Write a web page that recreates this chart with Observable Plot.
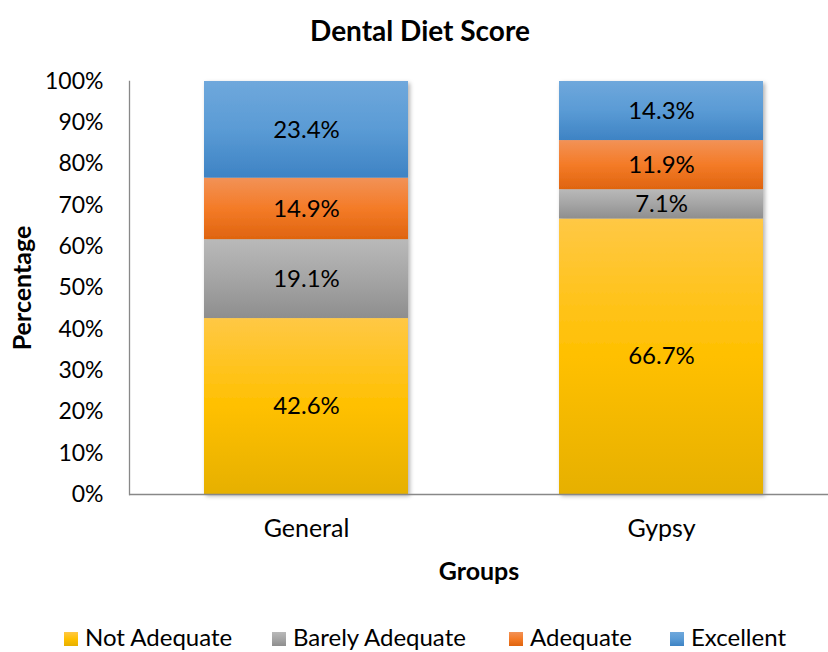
<!DOCTYPE html>
<html>
<head>
<meta charset="utf-8">
<script src="https://cdn.jsdelivr.net/npm/d3@7"></script>
<script src="https://cdn.jsdelivr.net/npm/@observablehq/plot@0.6"></script>
<style>
  html, body { margin: 0; padding: 0; background: #fff; }
  body { width: 828px; height: 652px; position: relative; overflow: hidden; font-family: Lato, "Noto Sans", sans-serif; color: #000; }
  #title { position: absolute; left: 6px; top: 0; width: 828px; height: 60px; line-height: 60px; text-align: center; font-weight: bold; font-size: 28px; }
  #chart { position: absolute; left: 0; top: 60px; }
  .lg { position: absolute; top: 624px; height: 26px; line-height: 26px; font-size: 24px; white-space: nowrap; }
  .sw { display: inline-block; width: 14px; height: 14px; vertical-align: middle; margin-right: 7px; position: relative; top: -1px; }
</style>
</head>
<body>
<div id="title">Dental Diet Score</div>
<div id="chart"></div>
<div id="legend"></div>
<script>
const groups = ["General", "Gypsy"];
const series = ["Not Adequate", "Barely Adequate", "Adequate", "Excellent"];
const generalValues = [42.6, 19.1, 14.9, 23.4];
const gypsyValues = [66.7, 7.1, 11.9, 14.3];
const yTicks = [0, 10, 20, 30, 40, 50, 60, 70, 80, 90, 100];

// gradient stops per series: [top, middle, bottom]
const gradients = [
  ["#ffc845", "#ffc000", "#e6b000"],
  ["#b9b9b9", "#a5a5a5", "#8e8e8e"],
  ["#f29257", "#f47b27", "#df640f"],
  ["#6fa8dc", "#5a9bd5", "#3e83c4"]
];
const gradIds = series.map((s, i) => "grad" + i);

const data = [];
groups.forEach((g, gi) => {
  const vals = gi === 0 ? generalValues : gypsyValues;
  series.forEach((s, si) => data.push({group: g, series: s, value: vals[si] / 100}));
});

const plot = Plot.plot({
  width: 828,
  height: 560,
  marginLeft: 129,
  marginRight: 0,
  marginTop: 21,
  marginBottom: 126,
  style: {fontFamily: "Lato, 'Noto Sans', sans-serif", fontSize: "22px", color: "#000", background: "transparent"},
  x: {domain: groups, range: [129, 839], paddingInner: 0.425, paddingOuter: 0.2125, label: null},
  y: {domain: [0, 1], label: null},
  color: {domain: series, range: gradIds.map(id => `url(#${id})`)},
  marks: [
    Plot.barY(data, {x: "group", y: "value", fill: "series", z: "series", order: series}),
    Plot.text(data, Plot.stackY({x: "group", y: "value", z: "series", order: series, text: d => (d.value * 100).toFixed(1) + "%", fill: "#000", fontSize: 24})),
    Plot.axisY({ticks: yTicks.map(t => t / 100), tickFormat: d => Math.round(d * 100) + "%", tickSize: 0, tickPadding: 26, fontSize: 23, label: null}),
    Plot.axisX({tickSize: 0, tickPadding: 25, fontSize: 25, label: null}),
    Plot.ruleY([0], {stroke: "#888", strokeWidth: 1.3}),
    Plot.frame({anchor: "left", stroke: "#888", strokeWidth: 1.3}),
    Plot.text(["Groups"], {frameAnchor: "bottom", lineAnchor: "middle", dy: 77, fontWeight: "bold", fontSize: 25, fill: "#000"}),
    Plot.text(["Percentage"], {frameAnchor: "left", textAnchor: "middle", lineAnchor: "middle", rotate: -90, dx: -107, fontWeight: "bold", fontSize: 25, fill: "#000"})
  ]
});

// gradient definitions and drop shadow
const svg = d3.select(plot);
const defs = svg.insert("defs", ":first-child");
gradients.forEach((stops, i) => {
  const lg = defs.append("linearGradient").attr("id", gradIds[i]).attr("x1", 0).attr("y1", 0).attr("x2", 0).attr("y2", 1);
  lg.append("stop").attr("offset", "0%").attr("stop-color", stops[0]);
  lg.append("stop").attr("offset", "50%").attr("stop-color", stops[1]);
  lg.append("stop").attr("offset", "100%").attr("stop-color", stops[2]);
});
const f = defs.append("filter").attr("id", "shadow").attr("x", "-10%").attr("y", "-10%").attr("width", "130%").attr("height", "130%");
f.append("feDropShadow").attr("dx", 2).attr("dy", 2).attr("stdDeviation", 2).attr("flood-color", "#000").attr("flood-opacity", 0.3);
svg.select('g[aria-label="bar"]').attr("filter", "url(#shadow)");

document.getElementById("chart").appendChild(plot);

// legend
const legendLeft = [64, 272, 509, 670];
const legend = document.getElementById("legend");
series.forEach((s, i) => {
  const item = document.createElement("div");
  item.className = "lg";
  item.style.left = legendLeft[i] + "px";
  const sw = document.createElement("span");
  sw.className = "sw";
  sw.style.background = `linear-gradient(${gradients[i][0]}, ${gradients[i][1]}, ${gradients[i][2]})`;
  item.appendChild(sw);
  item.appendChild(document.createTextNode(s));
  legend.appendChild(item);
});
</script>
</body>
</html>
